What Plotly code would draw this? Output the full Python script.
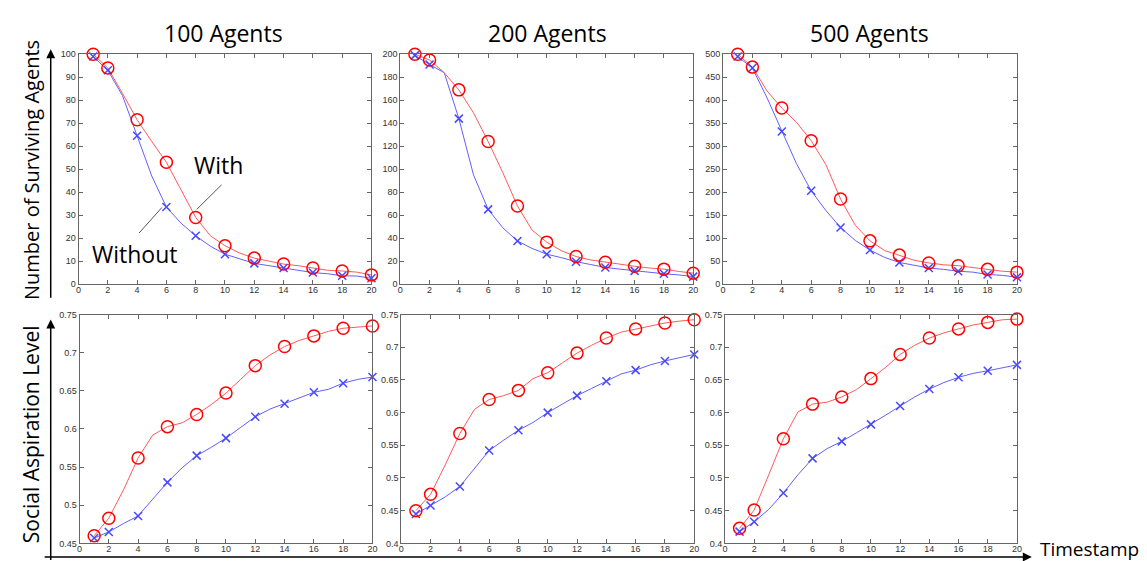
import plotly.graph_objects as go

W, H = 1147, 561

timesteps = list(range(1, 21))
marker_steps = [1, 2, 4, 6, 8, 10, 12, 14, 16, 18, 20]

panel_titles = ["100 Agents", "200 Agents", "500 Agents"]

# Number of surviving agents (top row)
surv_with_100 = [100, 94, 83, 71.5, 62, 53, 41, 29, 21, 16.7, 13.5, 11.3, 10, 8.7, 8, 7, 6, 5.7, 5.2, 4]
surv_without_100 = [99, 93, 82, 64.5, 47, 33.5, 26.5, 21, 16.5, 13, 11, 9, 8, 7, 6, 5, 4.5, 3.6, 3.5, 2.5]
surv_with_200 = [200, 195, 184, 169, 149, 124, 97, 68, 47, 36.5, 29, 24, 21, 19, 17, 15.5, 14, 13, 11, 9.5]
surv_without_200 = [199, 191, 184, 144, 95, 65, 49, 37.5, 31, 26, 23, 19.5, 17, 14.5, 13, 11.5, 10.5, 9, 8, 6.5]
surv_with_500 = [500, 472, 420, 383, 352, 312, 260, 185, 128, 94, 73, 63, 52, 46, 42, 40, 36, 32, 28, 26]
surv_without_500 = [495, 470, 405, 332, 262, 203, 160, 123, 95, 74, 58, 47, 41, 35, 32, 28, 26, 21, 19, 15]

# Social aspiration level (bottom row)
asp_with_100 = [0.460, 0.483, 0.520, 0.562, 0.592, 0.603, 0.608, 0.619, 0.632, 0.647, 0.665, 0.683, 0.697, 0.708, 0.716, 0.722, 0.728, 0.732, 0.734, 0.735]
asp_without_100 = [0.457, 0.465, 0.476, 0.486, 0.508, 0.530, 0.549, 0.565, 0.576, 0.588, 0.602, 0.616, 0.626, 0.633, 0.641, 0.648, 0.652, 0.660, 0.665, 0.668]
asp_with_200 = [0.450, 0.475, 0.520, 0.568, 0.605, 0.620, 0.626, 0.634, 0.652, 0.661, 0.676, 0.691, 0.703, 0.714, 0.723, 0.728, 0.733, 0.737, 0.740, 0.742]
asp_without_200 = [0.445, 0.458, 0.471, 0.487, 0.515, 0.542, 0.558, 0.573, 0.585, 0.600, 0.613, 0.626, 0.637, 0.648, 0.659, 0.665, 0.673, 0.679, 0.684, 0.689]
asp_with_500 = [0.423, 0.451, 0.505, 0.560, 0.601, 0.613, 0.616, 0.624, 0.635, 0.652, 0.669, 0.689, 0.703, 0.714, 0.722, 0.728, 0.734, 0.738, 0.742, 0.743]
asp_without_500 = [0.418, 0.433, 0.452, 0.477, 0.505, 0.530, 0.545, 0.556, 0.569, 0.582, 0.596, 0.610, 0.624, 0.636, 0.646, 0.654, 0.660, 0.664, 0.669, 0.673]

panels = [
    (surv_with_100, surv_without_100, [0, 100], 10),
    (surv_with_200, surv_without_200, [0, 200], 20),
    (surv_with_500, surv_without_500, [0, 500], 50),
    (asp_with_100, asp_without_100, [0.45, 0.75], 0.05),
    (asp_with_200, asp_without_200, [0.40, 0.75], 0.05),
    (asp_with_500, asp_without_500, [0.40, 0.75], 0.05),
]

# panel pixel boxes (left, right, top, bottom)
boxes = [
    (68, 363, 42, 276), (392, 687, 42, 276), (717, 1013, 42, 276),
    (69, 364, 307, 540), (393, 688, 307, 540), (719, 1013, 307, 540),
]

RED_LINE, RED_MK = "#ff5a5a", "#ff0000"
BLUE_LINE, BLUE_MK = "#6060ff", "#4848ff"

fig = go.Figure()
layout = dict(
    width=W, height=H, margin=dict(l=0, r=0, t=0, b=0),
    paper_bgcolor="white", plot_bgcolor="white", showlegend=False,
)

axis_common = dict(
    showline=True, linecolor="#666", linewidth=1, mirror="ticks",
    ticks="inside", ticklen=4, tickcolor="#666", showgrid=False, zeroline=False,
    tickfont=dict(family="Liberation Sans", size=9, color="#333"),
)

for i, ((yw, ywo, yr, dt), (l, r, t, b)) in enumerate(zip(panels, boxes)):
    n = "" if i == 0 else str(i + 1)
    xa, ya = "x" + n, "y" + n
    layout["xaxis" + n] = dict(axis_common, domain=[l / W, r / W], range=[0, 20], dtick=2, tick0=0, anchor=ya,
                               ticklabelstandoff=-3)
    layout["yaxis" + n] = dict(axis_common, domain=[1 - b / H, 1 - t / H], range=yr, dtick=dt, tick0=0, anchor=xa)
    # lines
    fig.add_trace(go.Scatter(x=timesteps, y=ywo, mode="lines", line=dict(color=BLUE_LINE, width=1), xaxis=xa, yaxis=ya))
    fig.add_trace(go.Scatter(x=timesteps, y=yw, mode="lines", line=dict(color=RED_LINE, width=1), xaxis=xa, yaxis=ya))
    # markers
    fig.add_trace(go.Scatter(x=marker_steps, y=[ywo[s - 1] for s in marker_steps], mode="markers",
                             marker=dict(symbol="x-thin-open", size=8, color=BLUE_MK, line=dict(color=BLUE_MK, width=1.5)),
                             xaxis=xa, yaxis=ya, cliponaxis=False))
    fig.add_trace(go.Scatter(x=marker_steps, y=[yw[s - 1] for s in marker_steps], mode="markers",
                             marker=dict(symbol="circle-open", size=12, color=RED_MK, line=dict(color=RED_MK, width=1.5)),
                             xaxis=xa, yaxis=ya, cliponaxis=False))

fig.update_layout(**layout)

TXT = "Open Sans"
annotations = []
title_centers = [214, 540, 865]
for title, cx in zip(panel_titles, title_centers):
    annotations.append(dict(text=title, x=cx / W, y=1 - 20 / H, xref="paper", yref="paper",
                            showarrow=False, xanchor="center", yanchor="middle",
                            font=dict(family=TXT, size=23, color="black")))

annotations.append(dict(text="Number of Surviving Agents", x=20 / W, y=1 - 160 / H, xref="paper", yref="paper",
                        showarrow=False, textangle=-90, xanchor="center", yanchor="middle",
                        font=dict(family=TXT, size=20, color="black")))
annotations.append(dict(text="Social Aspiration Level", x=20 / W, y=1 - 429 / H, xref="paper", yref="paper",
                        showarrow=False, textangle=-90, xanchor="center", yanchor="middle",
                        font=dict(family=TXT, size=21, color="black")))
annotations.append(dict(text="Timestamp", x=1035 / W, y=1 - 546 / H, xref="paper", yref="paper",
                        showarrow=False, xanchor="left", yanchor="middle", borderpad=0,
                        font=dict(family=TXT, size=19, color="black")))

# series labels in the first panel
annotations.append(dict(text="With", x=182 / W, y=1 - 155 / H, xref="paper", yref="paper",
                        showarrow=False, xanchor="left", yanchor="middle",
                        font=dict(family=TXT, size=23, color="black")))
annotations.append(dict(text="Without", x=80 / W, y=1 - 245 / H, xref="paper", yref="paper",
                        showarrow=False, xanchor="left", yanchor="middle",
                        font=dict(family=TXT, size=23, color="black")))

# axis arrows
def arrow(tipx, tipy, tailx, taily):
    return dict(x=tipx / W, y=1 - tipy / H, xref="paper", yref="paper",
                ax=tailx - tipx, ay=taily - tipy, axref="pixel", ayref="pixel",
                showarrow=True, arrowhead=2, arrowsize=1.2, arrowwidth=1.5, arrowcolor="black", text="")

annotations.append(arrow(40, 37, 40, 287))
annotations.append(arrow(40, 312, 40, 554))
annotations.append(arrow(1028, 554, 39.3, 554))

fig.update_layout(annotations=annotations)

# pointer lines for the With/Without labels
fig.add_shape(type="line", xref="paper", yref="paper", x0=212 / W, y0=1 - 175 / H, x1=187 / W, y1=1 - 200 / H,
              line=dict(color="#555", width=1))
fig.add_shape(type="line", xref="paper", yref="paper", x0=152 / W, y0=1 - 198 / H, x1=129 / W, y1=1 - 224 / H,
              line=dict(color="#555", width=1))

fig.write_html("out.html")
